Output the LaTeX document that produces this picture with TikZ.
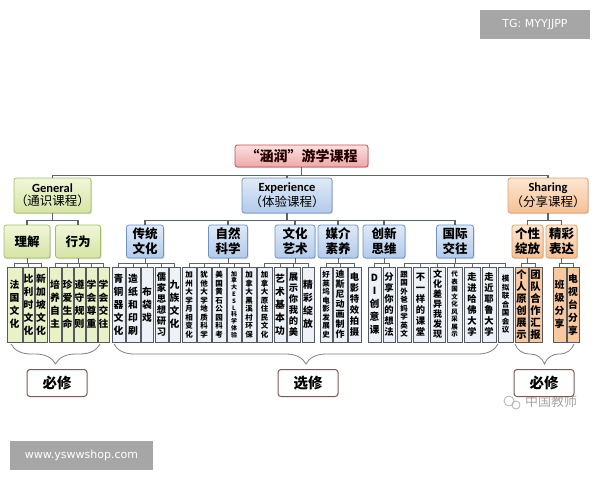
\documentclass[tikz,border=0pt]{standalone}
\usepackage{fontspec}
\setmainfont{Noto Sans CJK SC}
\newfontfamily\latinb{Carlito}
\newfontfamily\wmfont{DejaVu Sans}
\usetikzlibrary{decorations.pathreplacing,shadows}
\definecolor{lineC}{HTML}{5B646B}
\definecolor{gB}{HTML}{A3BE6A}\definecolor{gT}{HTML}{F1F6DA}\definecolor{gD}{HTML}{D5E4A3}
\definecolor{eB}{HTML}{6E93C6}\definecolor{eT}{HTML}{E0EAF7}\definecolor{eD}{HTML}{B2CAEA}
\definecolor{sB}{HTML}{DDA271}\definecolor{sT}{HTML}{FDE6D3}\definecolor{sD}{HTML}{F6C194}
\definecolor{tB}{HTML}{C0504D}\definecolor{tT}{HTML}{FBE1E1}\definecolor{tD}{HTML}{EDA7A9}
\definecolor{leafB}{HTML}{555A60}
\definecolor{lgF}{HTML}{E9F1C9}\definecolor{leF}{HTML}{EEF2F8}\definecolor{lsF}{HTML}{F8C9A0}
\definecolor{braceC}{HTML}{808080}\definecolor{labB}{HTML}{7A5A52}
\definecolor{wmC}{HTML}{A6A6A6}
\newcommand\ftA{\bfseries\fontsize{9.8}{13}\selectfont}
\newcommand\ftB{\bfseries\fontsize{9.3}{11}\selectfont}
\newcommand\ftBB{\bfseries\fontsize{9}{10}\selectfont}
\newcommand\ftC{\bfseries\fontsize{7.5}{8.5}\selectfont}
\newcommand\ftD{\bfseries\fontsize{6.5}{7.5}\selectfont}
\newcommand\ftDD{\bfseries\fontsize{6}{6.8}\selectfont}
\newcommand\ftE{\bfseries\fontsize{10.3}{12}\selectfont}
\newcommand\leafnode[6]{\node[leaf,#5,font=#6,minimum width={#3pt-#2pt}] (#1) at ({(#2+#3)/2},-304.5) {#4};}
\begin{document}
\begin{tikzpicture}[x=1pt,y=1pt,
  conn/.style={draw=lineC, line width=1.1pt},
  tbox/.style={draw, line width=0.8pt, rounded corners=2.5pt, align=center, inner sep=0pt,
     drop shadow={shadow xshift=1pt,shadow yshift=-1.2pt,opacity=0.3}},
  gbox/.style={tbox, draw=gB, top color=gT, bottom color=gD},
  ebox/.style={tbox, draw=eB, top color=eT, bottom color=eD},
  sbox/.style={tbox, draw=sB, top color=sT, bottom color=sD},
  titlebox/.style={tbox, draw=tB, top color=tT, bottom color=tD},
  midtext/.style={font=\bfseries\fontsize{12.5}{15}\selectfont, minimum height=33pt},
  leaf/.style={draw=leafB, line width=0.7pt, inner sep=0pt, align=center, minimum height=75pt,
     drop shadow={shadow xshift=0.8pt,shadow yshift=-0.8pt,opacity=0.25}},
  lg/.style={fill=lgF}, le/.style={fill=leF}, ls/.style={fill=lsF},
  bracesty/.style={draw=braceC, line width=0.8pt, decorate, decoration={brace, amplitude=20pt}},
  labbox/.style={draw=labB, line width=1pt, fill=white, rounded corners=3pt, minimum width=60pt,
     minimum height=27pt, inner sep=0pt, font=\bfseries\fontsize{14.5}{16}\selectfont},
  wmbox/.style={fill=wmC, text=white, inner sep=0pt, font=\wmfont\fontsize{11}{13}\selectfont}
]
\useasboundingbox (0,0) rectangle (600,-480);
\fill[white] (0,0) rectangle (600,-480);

% watermarks
\node[wmbox, minimum width=110pt, minimum height=29pt] (wm1) at (535,-24.5) {TG: MYYJJPP};
\node[wmbox, minimum width=143pt, minimum height=29pt] (wm2) at (81.5,-455.5) {www.yswwshop.com};
\node[text=black!35, font=\fontsize{13}{15}\selectfont, inner sep=0pt] (wx) at (551,-402) {中国教师};
\draw[black!30, line width=0.8pt] (509,-401) circle (5pt);
\draw[black!30, line width=0.8pt] (516,-405) circle (4pt);

% title and top level
\node[titlebox, minimum width=133pt, minimum height=22pt, text=black!85!red,
      font=\bfseries\fontsize{14}{16}\selectfont] (T) at (301.5,-156) {“涵润”游学课程};
\node[gbox, minimum width=77pt, minimum height=35pt] (G) at (52.5,-195.5)
  {{\latinb\bfseries\fontsize{12.5}{14}\selectfont General}\\[1pt]{\fontsize{12.5}{14}\selectfont （通识课程）}};
\node[ebox, minimum width=90pt, minimum height=35pt] (E) at (287,-195.5)
  {{\latinb\bfseries\fontsize{12.5}{14}\selectfont Experience}\\[1pt]{\fontsize{12.5}{14}\selectfont （体验课程）}};
\node[sbox, minimum width=80pt, minimum height=35pt] (S) at (548,-195.5)
  {{\latinb\bfseries\fontsize{12.5}{14}\selectfont Sharing}\\[1pt]{\fontsize{12.5}{14}\selectfont （分享课程）}};

% second level
\node[gbox, midtext, minimum width=46pt] (LJ) at (27,-241.5) {理解};
\node[gbox, midtext, minimum width=45pt] (XW) at (78,-241.5) {行为};
\node[ebox, midtext, minimum width=37pt] (CT) at (145,-241.5) {传统\\文化};
\node[ebox, midtext, minimum width=39pt] (ZR) at (228,-241.5) {自然\\科学};
\node[ebox, midtext, minimum width=40pt] (WY) at (295,-241.5) {文化\\艺术};
\node[ebox, midtext, minimum width=40pt] (MJ) at (338,-241.5) {媒介\\素养};
\node[ebox, midtext, minimum width=42pt] (CX) at (384,-241.5) {创新\\思维};
\node[ebox, midtext, minimum width=37pt] (GJ) at (455,-241.5) {国际\\交往};
\node[sbox, midtext, minimum width=31pt] (GX) at (527.5,-241.5) {个性\\绽放};
\node[sbox, midtext, minimum width=31pt] (JC) at (561.5,-241.5) {精彩\\表达};

% leaves
\leafnode{L1}{7}{22}{法\\国\\文\\化}{lg}{\ftA}
\leafnode{L2}{23}{34}{比\\利\\时\\文\\化}{lg}{\ftA}
\leafnode{L3}{35}{47}{新\\加\\坡\\文\\化}{lg}{\ftA}
\leafnode{L4}{49}{61}{培\\养\\自\\主}{lg}{\ftA}
\leafnode{L5}{62}{73}{珍\\爱\\生\\命}{lg}{\ftA}
\leafnode{L6}{74}{85}{遵\\守\\规\\则}{lg}{\ftA}
\leafnode{L7}{86}{97}{学\\会\\尊\\重}{lg}{\ftA}
\leafnode{L8}{98}{109}{学\\会\\交\\往}{lg}{\ftA}
\leafnode{L9}{112}{125}{青\\铜\\器\\文\\化}{le}{\ftA}
\leafnode{L10}{126}{140}{造\\纸\\和\\印\\刷}{le}{\ftA}
\leafnode{L11}{141}{153}{布\\袋\\戏}{le}{\ftA}
\leafnode{L12}{155}{168}{儒\\家\\思\\想\\研\\习}{le}{\ftB}
\leafnode{L13}{169}{180}{九\\族\\文\\化}{le}{\ftA}
\leafnode{L14}{182}{196}{加\\州\\大\\学\\月\\相\\变\\化}{le}{\ftC}
\leafnode{L15}{197}{211}{犹\\他\\大\\学\\地\\质\\科\\学}{le}{\ftC}
\leafnode{L16}{212}{226}{美\\国\\黄\\石\\公\\园\\科\\考}{le}{\ftC}
\leafnode{L17}{227}{241}{加\\拿\\大\\E\\S\\L\\科\\学\\体\\验}{le}{\ftDD}
\leafnode{L18}{242}{256}{加\\拿\\大\\黑\\溪\\村\\环\\保}{le}{\ftC}
\leafnode{L19}{257}{272}{加\\拿\\大\\原\\住\\民\\文\\化}{le}{\ftC}
\leafnode{L20}{274}{286}{艺\\术\\基\\本\\功}{le}{\ftA}
\leafnode{L21}{287}{300}{展\\示\\你\\我\\的\\美}{le}{\ftB}
\leafnode{L22}{302}{314}{精\\彩\\绽\\放}{le}{\ftA}
\leafnode{L23}{320}{332}{好\\莱\\坞\\电\\影\\发\\展\\史}{le}{\ftC}
\leafnode{L24}{333}{347}{迪\\斯\\尼\\动\\画\\制\\作}{le}{\ftBB}
\leafnode{L25}{348}{361}{电\\影\\特\\效\\拍\\摄}{le}{\ftB}
\leafnode{L26}{368}{381}{D\\I\\创\\意\\课}{le}{\ftA}
\leafnode{L27}{383}{395}{分\\享\\你\\的\\想\\法}{le}{\ftB}
\leafnode{L28}{397}{411}{跟\\国\\外\\爸\\妈\\学\\英\\文}{le}{\ftC}
\leafnode{L29}{413}{428}{不\\一\\样\\的\\课\\堂}{le}{\ftB}
\leafnode{L30}{430}{445}{文\\化\\差\\异\\我\\发\\现}{le}{\ftBB}
\leafnode{L31}{447}{462}{代\\表\\国\\文\\化\\风\\采\\展\\示}{le}{\ftD}
\leafnode{L32}{464}{480}{走\\进\\哈\\佛\\大\\学}{le}{\ftB}
\leafnode{L33}{482}{496}{走\\近\\耶\\鲁\\大\\学}{le}{\ftB}
\leafnode{L34}{498}{513}{模\\拟\\联\\合\\国\\会\\议}{le}{\ftC}
\leafnode{L35}{515}{528}{个\\人\\原\\创\\展\\示}{ls}{\ftE}
\leafnode{L36}{529}{542}{团\\队\\合\\作\\汇\\报}{ls}{\ftE}
\leafnode{L37}{553}{566}{班\\级\\分\\享}{ls}{\ftA}
\leafnode{L38}{567}{579}{电\\视\\台\\分\\享}{ls}{\ftA}

% connectors
\foreach \c in {G,E,S} \draw[conn] (T.south) -- ++(0,-8) -| (\c.north);
\foreach \c in {LJ,XW} \draw[conn] (G.south) -- ++(0,-7) -| (\c.north);
\foreach \c in {CT,ZR,WY,MJ,CX,GJ} \draw[conn] (E.south) -- ++(0,-7) -| (\c.north);
\foreach \c in {GX,JC} \draw[conn] (S.south) -- ++(0,-7) -| (\c.north);
\foreach \p/\list in {LJ/{L1,L2,L3}, XW/{L4,L5,L6,L7,L8}, CT/{L9,L10,L11,L12,L13},
   ZR/{L14,L15,L16,L17,L18}, WY/{L19,L20,L21,L22}, MJ/{L23,L24,L25}, CX/{L26,L27},
   GJ/{L28,L29,L30,L31,L32,L33,L34}, GX/{L35,L36}, JC/{L37,L38}}
  \foreach \c in \list \draw[conn, line width=0.9pt] (\p.south) -- ++(0,-5) -| (\c.north);

% braces and labels
\coordinate (b1r) at (100,-344); \coordinate (b1l) at (11,-344);
\coordinate (b2r) at (498,-344); \coordinate (b2l) at (114,-344);
\coordinate (b3r) at (574,-344); \coordinate (b3l) at (515,-344);
\draw[bracesty] (b1r) -- (b1l);
\draw[bracesty] (b2r) -- (b2l);
\draw[bracesty] (b3r) -- (b3l);
\node[labbox] (B1) at (57,-383) {必修};
\node[labbox] (B2) at (308,-383) {选修};
\node[labbox] (B3) at (544,-383) {必修};
\end{tikzpicture}
\end{document}
